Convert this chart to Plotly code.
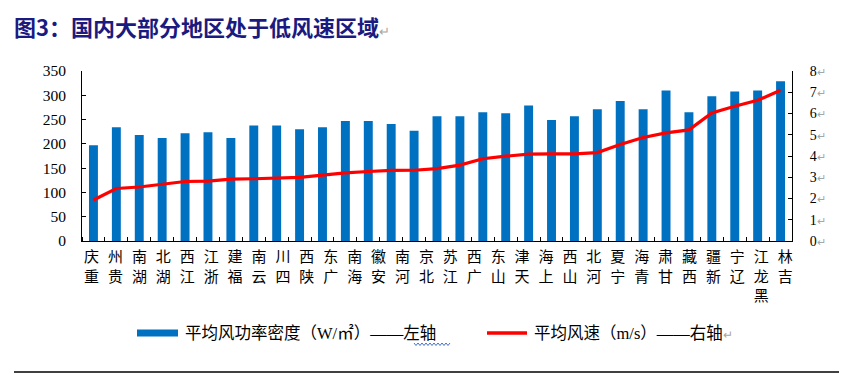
import plotly.graph_objects as go

# ---- data ----
provinces = ["重庆", "贵州", "湖南", "湖北", "江西", "浙江", "福建", "云南", "四川", "陕西",
             "广东", "海南", "安徽", "河南", "北京", "江苏", "广西", "山东", "天津", "上海",
             "山西", "河北", "宁夏", "青海", "甘肃", "西藏", "新疆", "辽宁", "黑龙江", "吉林"]
power_density = [197, 234, 218, 212, 222, 224, 212, 238, 238, 230, 234, 247, 247, 241, 227, 257,
                 257, 265, 263, 279, 249, 257, 271, 288, 271, 310, 265, 298, 308, 310, 329]
wind_speed = [1.93, 2.47, 2.54, 2.66, 2.80, 2.82, 2.91, 2.93, 2.97, 2.99, 3.10, 3.21, 3.27, 3.32, 3.33, 3.41,
              3.57, 3.87, 3.99, 4.09, 4.10, 4.10, 4.16, 4.54, 4.87, 5.09, 5.23, 6.03, 6.34, 6.62, 7.09]
left_ticks = [0, 50, 100, 150, 200, 250, 300, 350]
right_ticks = [0, 1, 2, 3, 4, 5, 6, 7, 8]
title_text = "图3：国内大部分地区处于低风速区域"
legend_bar = "平均风功率密度（W/㎡）——左轴"
legend_line = "平均风速（m/s）——右轴"

# page body has an 8px margin: work in window pixels, shift into figure pixels
OFF = 8
W, H = 847 - OFF, 374 - OFF
PL, PR, PT, PB = 82, 792, 71, 241          # plot box in window pixels
ML, MR, MT, MB = PL - OFF, W - (PR - OFF), PT - OFF, H - (PB - OFF)
PW, PH = PR - PL, PB - PT

def px(x):
    return (x - PL) / PW

def py(y):
    return (PB - y) / PH

n = len(power_density)
xs = list(range(n))
BLUE = "#0070C0"
RED = "#FF0000"
GRAY = "#A6A6A6"
NUMFONT = "Liberation Serif, Noto Sans CJK SC"
CJK = "Noto Sans CJK SC, Liberation Serif"

# stacked (upright) category labels, last character on top
stacked = ["<br>".join(reversed(list(p))) for p in provinces]
m = len(provinces)
lab_pos = [-0.08 + k * (30.28 / (m - 1)) for k in range(m)]

fig = go.Figure()
fig.add_trace(go.Bar(x=xs, y=power_density, marker=dict(color=BLUE, line=dict(width=0)),
                     name=legend_bar, showlegend=False))
fig.add_trace(go.Scatter(x=xs, y=wind_speed, yaxis="y2", mode="lines",
                         line=dict(color=RED, width=3.2), name=legend_line, showlegend=False))

fig.update_layout(
    width=W, height=H, autosize=False,
    margin=dict(l=ML, r=MR, t=MT, b=MB, pad=0),
    paper_bgcolor="white", plot_bgcolor="white",
    bargap=0.61,
    showlegend=False,
    xaxis=dict(range=[-0.5, n - 0.5], showgrid=False, zeroline=False,
               showline=True, linecolor="black", linewidth=1,
               tickmode="array", tickvals=lab_pos, ticktext=stacked,
               ticks="", ticklabelstandoff=2,
               tickfont=dict(family=CJK, size=15, color="black"),
               minor=dict(tickmode="array", tickvals=[i - 0.5 for i in range(n + 1)],
                          ticks="inside", ticklen=4, tickcolor="black", tickwidth=1, showgrid=False)),
    yaxis=dict(range=[0, 350], tickmode="array", tickvals=left_ticks,
               ticktext=[str(v) for v in left_ticks],
               showgrid=False, zeroline=False, showline=True, linecolor="black", linewidth=1,
               ticks="inside", ticklen=4, tickcolor="black", ticklabelstandoff=12,
               tickfont=dict(family=NUMFONT, size=15.5, color="black")),
    yaxis2=dict(range=[0, 8], overlaying="y", side="right", tickmode="array",
                tickvals=right_ticks,
                ticktext=[f"{v}<span style='color:{GRAY};font-size:11px'>↵</span>" for v in right_ticks],
                showgrid=False, zeroline=False, showline=True, linecolor="black", linewidth=1,
                ticks="inside", ticklen=4, tickcolor="black", ticklabelstandoff=14,
                tickfont=dict(family=NUMFONT, size=14, color="black")),
)

# title (box starts at the top of the figure so nothing is clipped)
fig.add_annotation(xref="paper", yref="paper", x=px(13), y=py(OFF + 0.5), xanchor="left", yanchor="top",
                   text=f"<b>{title_text}</b><span style='color:{GRAY};font-size:13px'>↵</span>",
                   showarrow=False, borderpad=0, font=dict(family=CJK, size=22, color="#1A1A80"))

# legend (drawn)
ly = 333
fig.add_shape(type="rect", xref="paper", yref="paper", x0=px(137), x1=px(178), y0=py(ly - 3.5), y1=py(ly + 3.5),
              fillcolor=BLUE, line=dict(width=0))
fig.add_annotation(xref="paper", yref="paper", x=px(183), y=py(ly), xanchor="left", yanchor="middle",
                   text=legend_bar, showarrow=False, font=dict(family=NUMFONT, size=16.5, color="black"))
fig.add_shape(type="line", xref="paper", yref="paper", x0=px(487), x1=px(527), y0=py(ly), y1=py(ly),
              line=dict(color=RED, width=3.5))
fig.add_annotation(xref="paper", yref="paper", x=px(532), y=py(ly), xanchor="left", yanchor="middle",
                   text=f"{legend_line}<span style='color:{GRAY};font-size:12px'>↵</span>",
                   showarrow=False, font=dict(family=NUMFONT, size=16.5, color="black"))

# spell-check style wavy underline under 左轴
pts = []
xw = 414.0
k = 0
while xw <= 450:
    yw = 343 if k % 2 == 0 else 345.5
    pts.append(f"{px(xw):.5f},{py(yw):.5f}")
    xw += 2
    k += 1
fig.add_shape(type="path", xref="paper", yref="paper", path="M" + " L".join(pts),
              line=dict(color="#4472C4", width=1))

# bottom rule
fig.add_shape(type="line", xref="paper", yref="paper", x0=px(14), x1=px(847), y0=py(372), y1=py(372),
              line=dict(color="black", width=1.5))

fig.write_html("out.html")
